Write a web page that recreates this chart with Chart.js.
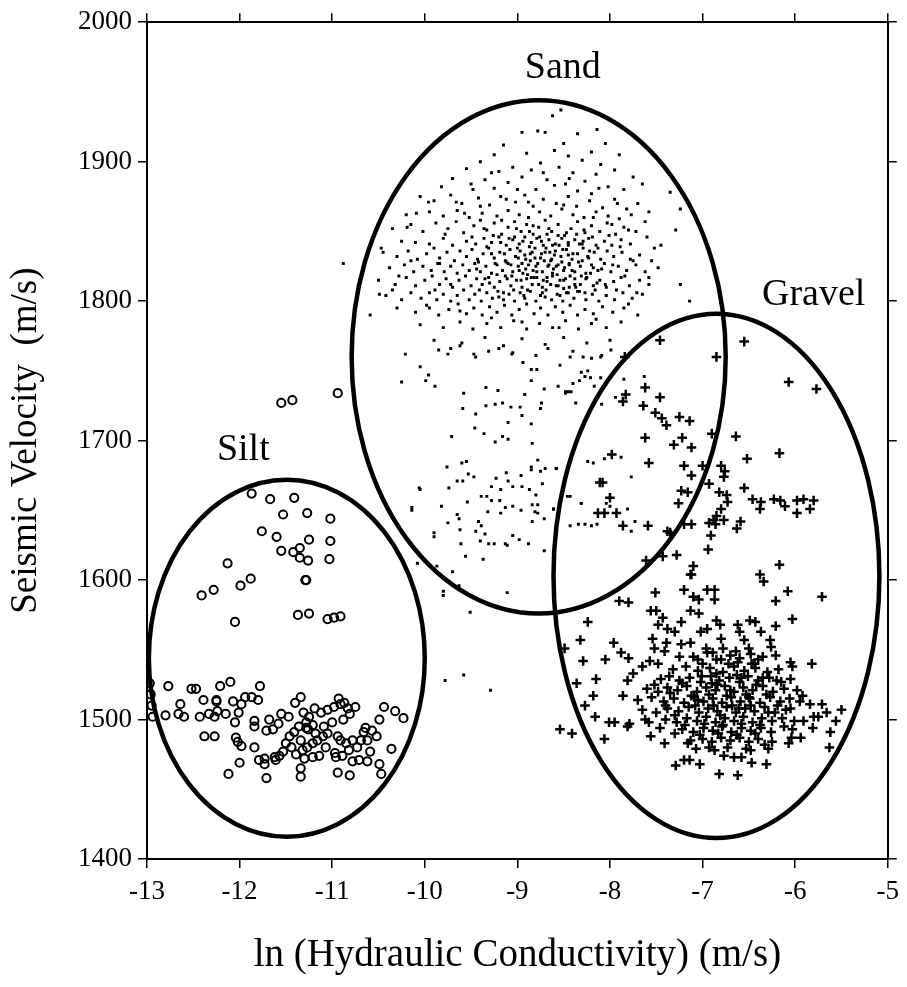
<!DOCTYPE html>
<html>
<head>
<meta charset="utf-8">
<script src="https://cdn.jsdelivr.net/npm/chart.js@4"></script>
<style>
  html, body { margin: 0; padding: 0; background: #fff; }
  canvas { display: block; }
</style>
</head>
<body>
<canvas id="chart" width="907" height="987"></canvas>
<script>
// tick values of the two axes
const xTicks = [-13, -12, -11, -10, -9, -8, -7, -6, -5];
const yTicks = [1400, 1500, 1600, 1700, 1800, 1900, 2000];

// region ellipses (center and half widths, in data units)
const regionNames = ['Silt', 'Sand', 'Gravel'];
const regionCenterX = [-11.49, -8.77, -6.85];
const regionCenterY = [1544, 1760, 1603];
const regionRadiusX = [1.49, 2.02, 1.76];
const regionRadiusY = [128, 184, 188];
// where each region name is written (text baseline)
const regionLabelX = [-11.96, -8.51, -5.80];
const regionLabelY = [1686, 1960, 1797];

// Silt: open circles [ln K, velocity]
const siltPoints = [
  [-11.87,1662],[-11.67,1658],[-11.41,1659],[-11.53,1647],[-11.27,1648],[-11.02,1644],[-11.76,1635],[-11.60,1631],
  [-11.25,1629],[-11.02,1628],[-11.55,1621],[-11.42,1620],[-11.35,1623],[-11.35,1616],[-11.26,1614],[-11.03,1615],
  [-12.13,1612],[-11.88,1601],[-11.99,1596],[-12.28,1593],[-12.41,1589],[-11.29,1600],[-11.28,1600],[-11.37,1575],
  [-11.25,1576],[-11.05,1572],[-10.98,1573],[-10.91,1574],[-12.05,1570],
  [-11.55,1727],[-11.43,1729],[-10.94,1734],
  [-12.97,1526],[-12.96,1518],[-12.95,1510],[-12.94,1502],
  [-12.77,1524],[-12.52,1522],[-12.47,1522],[-12.21,1524],[-12.10,1527],[-11.78,1524],
  [-12.39,1514],[-12.25,1514],[-12.25,1513],[-12.07,1513],[-11.98,1511],[-11.94,1516],[-11.87,1516],[-11.80,1514],
  [-11.40,1512],[-11.34,1516],[-10.93,1515],[-10.87,1512],[-10.75,1509],[-10.44,1509],[-10.32,1506],[-10.23,1501],
  [-10.49,1500],[-10.36,1479],
  [-12.64,1511],[-12.66,1504],[-12.60,1502],[-12.80,1503],[-12.43,1502],[-12.33,1504],[-12.27,1502],[-12.24,1506],
  [-12.15,1504],[-12.01,1505],[-12.05,1498],[-11.55,1504],[-11.47,1502],[-11.68,1500],[-11.84,1499],[-11.84,1495],
  [-11.71,1492],[-11.64,1493],[-11.58,1497],
  [-11.31,1505],[-11.25,1502],[-11.19,1508],[-11.12,1505],[-11.05,1507],[-10.98,1509],[-10.91,1511],[-10.83,1508],
  [-10.81,1504],[-10.88,1500],[-11.00,1498],[-11.09,1495],[-11.21,1496],[-11.28,1498],[-11.36,1495],[-11.41,1491],
  [-11.46,1488],[-11.50,1483],[-11.53,1477],[-11.57,1474],[-11.62,1473],[-11.73,1472],[-11.79,1471],[-11.73,1468],
  [-11.61,1471],[-11.39,1475],[-11.32,1478],[-11.27,1480],[-11.21,1483],[-11.16,1485],[-11.10,1488],[-11.05,1490],
  [-10.94,1488],[-10.91,1485],[-10.85,1483],[-10.78,1485],[-10.73,1480],[-10.82,1478],[-10.89,1474],[-10.96,1473],
  [-10.97,1476],[-11.07,1480],[-11.14,1474],[-11.21,1473],[-11.30,1472],[-11.44,1480],[-11.34,1485],[-11.18,1490],
  [-11.26,1493],[-11.28,1494],
  [-12.38,1488],[-12.27,1488],[-12.04,1487],[-12.02,1484],[-11.98,1481],[-11.84,1480],[-12.00,1469],[-12.12,1461],
  [-11.71,1458],[-11.34,1465],[-11.34,1459],[-10.94,1462],[-10.81,1460],[-10.47,1461],[-10.49,1468],[-10.62,1470],
  [-10.71,1471],[-10.78,1470],[-10.59,1477],[-10.52,1488],[-10.57,1492],[-10.64,1494],[-10.66,1491],[-10.62,1485],
  [-10.69,1485]
];

// Sand: small dots
const sandPoints = [
  [-8.53,1937],[-8.62,1933],[-8.95,1921],[-8.78,1922],[-8.70,1921],[-8.35,1920],[-8.14,1923],[-9.15,1912],[-8.50,1913],
  [-8.05,1913],[-8.60,1908],[-8.90,1906],[-9.25,1905],[-8.45,1904],[-8.20,1907],[-7.90,1905],[-9.40,1900],[-8.75,1899],
  [-8.10,1898],[-8.30,1901],
  [-9.55,1895],[-9.20,1893],[-9.05,1896],[-8.85,1894],[-8.55,1896],[-8.40,1892],[-8.15,1891],[-7.95,1894],[-7.75,1889],
  [-9.70,1888],[-9.35,1887],[-9.10,1885],[-8.95,1889],[-8.68,1887],[-8.48,1884],[-8.27,1886],[-8.02,1882],[-7.85,1880],
  [-9.82,1882],[-9.48,1880],[-9.25,1881],[-8.80,1880],[-8.60,1883],[-8.35,1879],[-8.12,1881],[-7.65,1884],[-7.35,1878],
  [-10.05,1875],[-9.90,1872],[-9.72,1876],[-9.60,1870],[-9.42,1874],[-9.30,1869],[-9.18,1875],[-9.02,1871],[-8.92,1876],
  [-8.83,1868],[-8.72,1873],[-8.58,1870],[-8.45,1875],[-8.36,1868],[-8.22,1872],[-8.08,1867],[-7.95,1873],[-7.82,1866],
  [-7.70,1870],[-7.58,1864],[-10.20,1862],[-9.95,1864],[-9.80,1861],[-9.65,1865],[-9.52,1860],[-9.38,1863],[-9.22,1861],
  [-9.10,1865],[-8.98,1862],[-8.88,1860],[-8.76,1864],[-8.64,1861],[-8.52,1866],[-8.40,1862],[-8.28,1860],[-8.15,1864],
  [-8.02,1861],[-7.90,1859],[-7.77,1862],[-7.24,1866],[-9.96,1871],[-10.09,1863],
  [-10.35,1852],[-10.15,1855],[-10.02,1850],[-9.88,1856],[-9.75,1852],[-9.66,1857],[-9.58,1849],[-9.47,1854],[-9.40,1858],
  [-9.33,1851],[-9.25,1856],[-9.17,1848],[-9.10,1853],[-9.03,1857],[-8.96,1850],[-8.90,1855],[-8.83,1848],[-8.77,1853],
  [-8.70,1858],[-8.63,1850],[-8.56,1855],[-8.49,1847],[-8.42,1852],[-8.35,1857],[-8.27,1849],[-8.20,1854],[-8.11,1850],
  [-8.03,1856],[-7.94,1848],[-7.85,1853],[-7.72,1850],[-7.60,1846],[-7.29,1851],[-10.19,1853],
  [-10.25,1843],[-9.95,1841],[-9.80,1845],[-9.70,1840],[-9.55,1843],[-9.45,1841],[-9.36,1845],[-9.28,1842],[-9.20,1846],
  [-9.12,1840],[-9.05,1844],[-8.98,1841],[-8.92,1846],[-8.85,1842],[-8.79,1845],[-8.72,1840],[-8.66,1844],[-8.59,1841],
  [-8.52,1845],[-8.45,1840],[-8.38,1844],[-8.30,1841],[-8.23,1845],[-8.15,1840],[-8.06,1843],[-7.98,1840],[-7.88,1844],
  [-7.78,1841],[-7.45,1840],[-10.47,1838],
  [-10.45,1835],[-10.30,1832],[-10.18,1836],[-10.08,1830],[-9.98,1834],[-9.90,1838],[-9.84,1831],[-9.76,1835],[-9.68,1829],
  [-9.62,1836],[-9.55,1832],[-9.49,1837],[-9.43,1830],[-9.37,1834],[-9.31,1838],[-9.25,1831],[-9.19,1835],[-9.13,1829],
  [-9.08,1837],[-9.02,1832],[-8.97,1836],[-8.91,1830],[-8.86,1834],[-8.81,1838],[-8.75,1831],[-8.70,1835],[-8.64,1829],
  [-8.59,1836],[-8.53,1832],[-8.47,1837],[-8.41,1830],[-8.35,1834],[-8.29,1838],[-8.23,1831],[-8.17,1835],[-8.10,1830],
  [-8.03,1836],[-7.96,1832],[-7.87,1835],[-7.78,1830],[-7.68,1833],[-7.55,1829],[-10.88,1827],[-10.66,1826],
  [-10.38,1824],[-10.22,1826],[-10.12,1821],[-10.02,1825],[-9.93,1822],[-9.86,1827],[-9.79,1821],[-9.72,1825],[-9.65,1820],
  [-9.59,1826],[-9.52,1822],[-9.46,1827],[-9.40,1821],[-9.34,1825],[-9.28,1820],[-9.22,1826],[-9.16,1822],[-9.10,1827],
  [-9.05,1821],[-8.99,1825],[-8.94,1820],[-8.88,1826],[-8.83,1822],[-8.78,1827],[-8.73,1821],[-8.67,1825],[-8.62,1820],
  [-8.56,1826],[-8.50,1822],[-8.44,1827],[-8.38,1821],[-8.32,1825],[-8.26,1820],[-8.20,1826],[-8.13,1822],[-8.06,1827],
  [-7.99,1821],[-7.91,1825],[-7.82,1822],[-7.72,1826],[-7.62,1821],[-7.48,1824],
  [-10.50,1815],[-10.32,1812],[-10.20,1817],[-10.10,1811],[-10.00,1815],[-9.92,1818],[-9.84,1812],[-9.77,1816],[-9.70,1810],
  [-9.63,1815],[-9.56,1818],[-9.50,1811],[-9.44,1816],[-9.38,1812],[-9.31,1817],[-9.25,1810],[-9.19,1814],[-9.13,1818],
  [-9.07,1811],[-9.01,1815],[-8.95,1810],[-8.90,1816],[-8.84,1812],[-8.79,1817],[-8.73,1810],[-8.68,1814],[-8.62,1818],
  [-8.56,1811],[-8.50,1815],[-8.44,1810],[-8.38,1816],[-8.32,1812],[-8.25,1817],[-8.18,1811],[-8.11,1815],[-8.04,1810],
  [-7.96,1814],[-7.88,1817],[-7.79,1811],[-7.68,1815],[-7.58,1812],[-7.24,1812],[-10.49,1805],
  [-10.42,1804],[-10.25,1801],[-10.15,1806],[-10.04,1802],[-9.95,1806],[-9.87,1801],[-9.80,1805],[-9.72,1800],[-9.65,1804],
  [-9.58,1808],[-9.52,1801],[-9.46,1805],[-9.39,1800],[-9.33,1806],[-9.27,1802],[-9.21,1807],[-9.15,1801],[-9.09,1805],
  [-9.03,1800],[-8.97,1806],[-8.92,1802],[-8.86,1807],[-8.80,1800],[-8.75,1804],[-8.69,1808],[-8.63,1801],[-8.57,1805],
  [-8.51,1800],[-8.45,1806],[-8.39,1802],[-8.33,1807],[-8.26,1801],[-8.19,1805],[-8.12,1800],[-8.04,1804],[-7.95,1801],
  [-7.86,1806],[-7.76,1802],[-7.65,1805],[-7.14,1800],
  [-9.18,1842],[-9.12,1828],[-9.06,1818],[-9.00,1838],[-8.95,1827],[-8.89,1819],[-8.84,1835],[-8.80,1825],[-8.77,1812],
  [-8.74,1843],[-8.71,1829],[-8.68,1817],[-8.65,1835],[-8.61,1823],[-8.58,1811],[-8.55,1840],[-8.52,1828],[-8.48,1816],
  [-8.45,1833],[-8.41,1822],[-8.37,1810],[-8.33,1841],[-8.30,1829],[-8.26,1816],[-8.22,1836],[-8.18,1824],[-8.14,1813],
  [-9.15,1806],[-9.03,1846],[-8.93,1804],[-8.87,1850],[-8.73,1806],[-8.66,1852],[-8.54,1804],[-8.47,1849],[-8.35,1807],
  [-8.28,1851],[-9.22,1819],[-9.28,1834],[-9.35,1816],[-9.42,1828],[-8.92,1833],[-8.82,1817],[-8.69,1838],[-8.57,1819],
  [-8.44,1826],[-8.98,1822],[-8.86,1829],[-8.63,1830],[-8.50,1809],
  [-9.57,1863],[-9.49,1846],[-9.44,1823],[-9.41,1808],[-9.36,1852],[-9.33,1839],[-9.30,1813],[-9.26,1847],[-9.24,1827],
  [-9.20,1803],[-9.17,1858],[-9.14,1834],[-9.11,1816],[-9.09,1845],[-9.07,1826],[-9.04,1808],[-9.01,1852],[-8.99,1831],
  [-8.96,1815],[-8.94,1843],[-8.91,1823],[-8.89,1808],[-8.87,1839],[-8.85,1817],[-8.83,1854],[-8.81,1831],[-8.79,1821],
  [-8.76,1846],[-8.74,1834],[-8.72,1815],[-8.70,1803],[-8.68,1848],[-8.66,1826],[-8.64,1812],[-8.62,1840],[-8.60,1833],
  [-8.58,1825],[-8.56,1847],[-8.54,1815],[-8.51,1837],[-8.49,1824],[-8.47,1806],[-8.45,1842],[-8.43,1818],[-8.40,1834],
  [-8.38,1812],[-8.36,1848],[-8.34,1828],[-8.31,1818],[-8.29,1843],[-8.27,1806],[-8.24,1832],[-8.21,1820],[-8.19,1846],
  [-8.16,1808],[-8.13,1838],[-8.09,1823],[-8.05,1812],[-8.01,1847],[-7.97,1826],[-7.93,1808],[-7.89,1839],[-7.84,1818],
  [-7.80,1851],[-7.75,1829],[-7.71,1806],
  [-9.78,1848],[-9.84,1827],[-9.72,1812],[-9.66,1871],[-9.89,1808],[-10.10,1842],[-10.28,1818],[-9.95,1795],[-9.50,1884],
  [-9.28,1892],[-9.00,1880],[-8.72,1892],[-8.44,1888],[-8.20,1877],[-7.92,1870],[-7.62,1857],[-7.52,1838],[-7.58,1817],
  [-7.80,1798],[-8.15,1787],[-8.55,1781],[-8.95,1785],[-9.28,1788],[-9.62,1793],[-10.35,1808],[-10.15,1829],[-9.40,1868],
  [-9.12,1873],[-8.88,1871],[-8.50,1869],[-8.18,1860],[-7.98,1855],
  [-10.30,1795],[-10.10,1792],[-9.98,1797],[-9.85,1790],[-9.74,1794],[-9.64,1798],[-9.55,1791],[-9.47,1795],[-9.38,1790],
  [-9.30,1796],[-9.22,1792],[-9.14,1797],[-9.06,1790],[-8.98,1794],[-8.90,1798],[-8.82,1791],[-8.75,1795],[-8.67,1790],
  [-8.59,1796],[-8.51,1792],[-8.43,1797],[-8.35,1790],[-8.27,1794],[-8.18,1791],[-8.08,1796],[-7.97,1792],[-7.85,1795],
  [-7.70,1790],[-10.59,1790],
  [-10.05,1783],[-9.80,1781],[-9.62,1785],[-9.48,1780],[-9.33,1784],[-9.18,1781],[-9.04,1786],[-8.90,1780],[-8.76,1784],
  [-8.62,1781],[-8.48,1786],[-8.34,1780],[-8.20,1784],[-8.04,1781],[-7.88,1785],
  [-9.90,1772],[-9.60,1770],[-9.35,1774],[-9.15,1768],[-8.95,1773],[-8.70,1769],[-8.50,1774],[-8.25,1770],[-8.00,1772],
  [-9.75,1762],[-9.45,1760],[-9.05,1763],[-8.80,1761],[-8.40,1764],[-8.10,1760],
  [-9.85,1765],[-9.72,1766],[-9.62,1768],[-9.47,1762],[-9.31,1764],[-9.20,1766],[-9.06,1762],[-8.94,1756],[-8.85,1751],
  [-8.79,1751],[-8.67,1766],[-8.54,1754],[-8.43,1760],[-8.29,1760],[-8.20,1759],[-8.09,1761],[-7.99,1765],
  [-10.21,1762],[-10.05,1753],[-9.99,1743],[-9.89,1739],[-10.25,1742],[-9.96,1747],[-9.58,1734],[-9.59,1723],[-9.45,1719],
  [-9.34,1738],[-9.21,1736],[-9.34,1725],[-9.24,1726],[-9.16,1727],[-9.07,1724],[-8.97,1724],[-8.95,1718],[-8.92,1733],
  [-8.85,1743],[-8.74,1727],[-8.75,1723],[-8.71,1737],[-8.85,1712],[-9.10,1713],[-9.46,1709],[-9.36,1705],[-9.71,1703],
  [-9.16,1703],[-9.10,1701],[-9.24,1699],[-8.84,1698],[-9.60,1684],[-9.55,1685],[-9.76,1681],[-9.53,1676],[-9.47,1674],
  [-9.65,1671],[-9.59,1671],[-9.74,1666],[-10.05,1665],[-9.23,1673],[-9.12,1677],[-9.10,1671],[-8.96,1675],[-9.28,1667],
  [-9.18,1665],[-9.05,1667],[-8.95,1667],[-8.85,1681],[-8.85,1679],[-8.75,1678],[-8.70,1680],[-8.78,1686],[-8.58,1680],
  [-8.73,1669],[-8.87,1665],[-8.80,1661],[-8.84,1654],[-8.78,1654],[-8.81,1649],[-8.78,1648],[-8.71,1644],[-8.84,1642],
  [-8.96,1650],[-9.05,1653],[-9.13,1652],[-9.18,1648],[-9.32,1649],[-9.39,1660],[-9.33,1660],[-9.28,1657],[-9.19,1657],
  [-9.54,1656],[-9.82,1653],[-9.65,1647],[-9.63,1644],[-9.75,1641],[-9.42,1642],[-9.39,1639],[-9.45,1635],[-9.35,1633],
  [-9.40,1628],[-9.31,1626],[-9.25,1626],[-9.13,1626],[-9.11,1625],[-9.05,1632],[-8.98,1629],[-8.88,1626],[-8.71,1621],
  [-9.61,1626],[-9.90,1631],[-9.62,1636],[-10.14,1650],[-9.37,1615],[-9.56,1617],[-9.87,1610],[-9.70,1606],[-9.63,1596],
  [-9.11,1591],[-9.80,1589],[-9.51,1577],[-8.61,1651],[-8.46,1660],[-8.43,1639],[-8.31,1655],[-8.37,1727],[-8.56,1739],
  [-8.48,1735],[-8.42,1735],[-8.31,1749],[-8.27,1746],[-8.24,1750],[-8.33,1743],[-8.40,1741],[-8.21,1745],[-8.09,1726],
  [-8.17,1739],[-10.06,1666],[-10.14,1652],[-9.90,1634],[-10.08,1612],[-9.80,1592],[-9.78,1528],[-9.58,1532],[-9.29,1521],
  [-7.63,1746],[-7.85,1744],[-7.94,1731],[-8.10,1745],[-8.24,1685],[-8.18,1684],[-8.06,1687],[-7.88,1688],[-7.77,1674],
  [-8.31,1655],[-8.43,1660],[-8.04,1655],[-8.00,1653],[-8.34,1640],[-8.27,1640],[-8.20,1639],[-8.14,1640],[-7.81,1651],
  [-7.73,1642],[-7.77,1635],[-8.58,1680],[-8.61,1651],[-8.45,1735],[-8.48,1734]
];

// Gravel: plus signs
const gravelPoints = [
  [-7.46,1772],[-6.55,1771],[-6.85,1760],[-7.84,1760],[-6.07,1742],[-5.77,1737],[-7.62,1738],[-7.83,1733],[-7.86,1728],
  [-7.46,1731],[-7.64,1725],[-7.51,1720],[-7.44,1716],[-7.39,1711],[-7.25,1717],[-7.14,1714],[-6.90,1705],[-6.64,1703],
  [-7.62,1702],[-7.22,1702],[-7.31,1697],[-7.12,1695],[-7.98,1690],[-7.58,1684],[-7.20,1682],[-7.00,1682],[-6.80,1682],
  [-7.12,1675],[-6.76,1678],[-6.77,1674],[-6.52,1687],[-6.17,1691],[-8.11,1670],[-8.08,1670],[-6.93,1669],[-7.23,1664],
  [-7.16,1663],[-6.82,1663],[-6.74,1661],[-6.55,1666],[-8.00,1659],[-7.26,1655],[-6.73,1656],[-6.46,1658],[-6.37,1656],
  [-6.38,1651],[-6.23,1658],[-6.16,1657],[-6.11,1653],[-5.98,1657],[-5.91,1658],[-5.80,1657],[-5.98,1648],[-5.84,1651],
  [-8.13,1648],[-8.06,1648],[-7.93,1648],[-6.80,1651],[-6.85,1646],[-6.88,1643],[-6.93,1641],[-6.77,1643],[-6.86,1640],
  [-6.59,1642],[-6.63,1637],[-7.12,1640],[-7.20,1640],[-7.86,1639],[-7.59,1639],[-7.38,1635],[-7.35,1634],[-6.91,1632],
  [-6.94,1622],[-7.28,1618],[-7.61,1614],[-7.43,1617],[-7.10,1610],[-7.12,1604],[-6.17,1611],[-6.38,1604],
  [-7.13,1604],[-6.34,1599],[-7.20,1593],[-7.51,1591],[-6.95,1593],[-6.87,1593],[-7.10,1588],[-7.04,1586],[-6.87,1586],
  [-6.08,1592],[-5.71,1588],[-6.21,1585],[-7.90,1585],[-7.80,1584],[-7.56,1578],[-7.50,1578],[-7.13,1578],[-7.04,1576],
  [-7.43,1573],[-7.23,1570],[-6.85,1571],[-6.81,1568],[-8.24,1570],[-7.48,1568],[-7.38,1565],[-7.30,1563],[-7.02,1563],
  [-6.95,1565],[-6.62,1568],[-6.49,1571],[-6.43,1570],[-6.60,1563],[-6.37,1563],[-6.21,1567],[-6.03,1572],[-8.32,1557],
  [-7.96,1555],[-7.54,1558],[-7.39,1555],[-7.23,1554],[-7.13,1555],[-6.80,1558],[-6.55,1557],[-6.27,1557],[-8.49,1551],
  [-7.88,1548],[-7.80,1544],[-7.52,1551],[-7.41,1549],[-6.96,1551],[-6.89,1548],[-6.78,1551],[-6.64,1549],[-6.50,1551],
  [-6.35,1545],[-6.26,1552],[-6.21,1546],[-8.29,1542],[-8.05,1543],[-7.65,1538],[-7.57,1542],[-7.48,1540],[-7.05,1543],
  [-6.80,1543],[-6.62,1541],[-6.44,1540],[-6.05,1541],[-5.82,1540],[-6.03,1538],[-7.75,1533],[-8.15,1529],[-8.36,1526],
  [-7.81,1528],[-7.86,1517],[-8.18,1517],[-8.27,1510],[-8.16,1502],[-8.01,1498],[-7.95,1498],[-7.81,1495],[-7.79,1497],
  [-8.54,1493],[-8.41,1490],[-8.06,1486],[-7.58,1498],[-7.56,1488],[-7.41,1483],[-7.30,1490],[-7.20,1471],[-7.29,1467],
  [-7.14,1471],[-7.03,1468],[-6.82,1461],[-6.62,1460],[-6.47,1469],[-6.31,1468],[-5.92,1517],[-5.84,1511],[-5.71,1511],
  [-5.66,1505],[-5.50,1507],[-5.80,1502],[-5.75,1502],[-5.56,1499],[-5.62,1491],[-5.63,1480],[-5.81,1494],[-5.94,1487],
  [-6.04,1487],[-6.07,1483],[-6.03,1493],[-5.91,1499],[-6.01,1499],[-6.25,1484],[-6.29,1479],[-6.48,1478],[-6.58,1473],
  [-6.66,1473],[-6.77,1474],[-6.87,1478],[-7.07,1479],[-7.16,1483],
  [-7.32,1536],[-7.18,1538],[-7.05,1535],[-6.92,1537],[-6.78,1534],[-6.66,1538],[-6.55,1535],[-6.43,1537],[-6.30,1534],
  [-6.18,1536],[-7.45,1529],[-7.36,1531],[-7.25,1528],[-7.14,1530],[-7.02,1527],[-6.91,1531],[-6.82,1528],[-6.71,1530],
  [-6.60,1527],[-6.51,1531],[-6.40,1528],[-6.28,1530],[-6.15,1527],[-6.05,1529],
  [-7.60,1522],[-7.48,1520],[-7.38,1523],[-7.27,1521],[-7.17,1524],[-7.06,1520],[-6.96,1523],[-6.86,1521],[-6.76,1524],
  [-6.66,1520],[-6.56,1523],[-6.46,1521],[-6.35,1524],[-6.24,1520],[-6.12,1522],[-5.98,1521],
  [-7.70,1514],[-7.55,1516],[-7.42,1513],[-7.31,1515],[-7.20,1512],[-7.09,1516],[-6.99,1513],[-6.89,1515],[-6.79,1512],
  [-6.69,1516],[-6.59,1513],[-6.49,1515],[-6.38,1512],[-6.27,1516],[-6.16,1513],[-6.06,1515],
  [-7.65,1507],[-7.50,1505],[-7.38,1508],[-7.26,1506],[-7.15,1509],[-7.04,1505],[-6.94,1508],[-6.84,1506],[-6.74,1509],
  [-6.64,1505],[-6.54,1508],[-6.44,1506],[-6.33,1509],[-6.22,1505],[-6.10,1507],
  [-7.40,1500],[-7.28,1498],[-7.17,1501],[-7.06,1499],[-6.96,1502],[-6.86,1498],[-6.76,1501],[-6.66,1499],[-6.56,1502],
  [-6.46,1498],[-6.36,1501],[-6.25,1499],[-6.14,1501],
  [-7.22,1493],[-7.10,1491],[-6.99,1494],[-6.89,1492],[-6.79,1495],[-6.69,1491],[-6.58,1494],[-6.48,1492],[-6.37,1494],
  [-6.26,1491],[-7.00,1486],[-6.90,1484],[-6.80,1487],[-6.70,1485],[-6.60,1487],[-6.50,1484],[-6.40,1486],
  [-7.10,1545],[-6.95,1548],[-6.85,1543],[-6.70,1546],[-6.60,1544],[-6.48,1547],[-6.40,1543],[-7.25,1545],
  [-7.35,1519],[-7.22,1526],[-7.12,1517],[-7.01,1531],[-6.93,1518],[-6.84,1525],[-6.74,1517],[-6.63,1532],[-6.53,1518],
  [-6.42,1525],[-6.31,1518],[-6.20,1528],[-7.30,1503],[-7.19,1496],[-7.08,1510],[-6.98,1497],[-6.88,1510],[-6.78,1496],
  [-6.68,1510],[-6.58,1497],[-6.48,1510],[-6.38,1496],[-6.29,1505],[-6.19,1510],[-7.13,1485],[-7.03,1489],[-6.93,1480],
  [-6.83,1490],[-6.73,1480],[-6.63,1489],[-6.53,1479],[-6.43,1490],[-6.33,1482],[-6.85,1533],[-6.72,1540],[-6.58,1530],
  [-6.47,1540],[-6.35,1530],[-7.00,1540],[-7.40,1510],[-7.52,1525],[-7.62,1500],[-6.05,1508],[-5.95,1513],[-6.12,1495],
  [-7.46,1494],[-6.81,1503],[-6.61,1508],[-6.90,1526],[-7.05,1514],[-6.70,1521],[-6.50,1516]
];

const serif = "'Liberation Serif', 'DejaVu Serif', serif";

function toXY(list) {
  return list.map(p => ({ x: p[0], y: p[1] }));
}

// ellipses and region names, drawn through the chart scales
const regionPlugin = {
  id: 'regions',
  afterDatasetsDraw(chart) {
    const ctx = chart.ctx;
    const xs = chart.scales.x;
    const ys = chart.scales.y;
    ctx.save();
    ctx.strokeStyle = '#000';
    ctx.lineWidth = 4.5;
    for (let i = 0; i < regionNames.length; i++) {
      const cx = xs.getPixelForValue(regionCenterX[i]);
      const cy = ys.getPixelForValue(regionCenterY[i]);
      const rx = Math.abs(xs.getPixelForValue(regionCenterX[i] + regionRadiusX[i]) - cx);
      const ry = Math.abs(ys.getPixelForValue(regionCenterY[i] + regionRadiusY[i]) - cy);
      ctx.beginPath();
      ctx.ellipse(cx, cy, rx, ry, 0, 0, Math.PI * 2);
      ctx.stroke();
    }
    ctx.fillStyle = '#000';
    ctx.font = '38px ' + serif;
    ctx.textAlign = 'center';
    ctx.textBaseline = 'alphabetic';
    for (let i = 0; i < regionNames.length; i++) {
      ctx.fillText(regionNames[i], xs.getPixelForValue(regionLabelX[i]), ys.getPixelForValue(regionLabelY[i]));
    }
    ctx.restore();
  }
};

function frameAxis(extra) {
  return Object.assign({
    border: { display: true, color: '#000', width: 2 },
    grid: { drawOnChartArea: false, color: '#000', lineWidth: 1.5, tickLength: 9 },
  }, extra);
}

function createChart() {
  const ctx = document.getElementById('chart').getContext('2d');
  new Chart(ctx, {
    type: 'scatter',
    data: {
      datasets: [
        {
          label: 'Sand',
          data: toXY(sandPoints),
          pointStyle: 'rect',
          pointRadius: 2.1,
          backgroundColor: '#000',
          borderWidth: 0
        },
        {
          label: 'Silt',
          data: toXY(siltPoints),
          pointStyle: 'circle',
          pointRadius: 4.1,
          backgroundColor: 'rgba(0,0,0,0)',
          borderColor: '#000',
          borderWidth: 2
        },
        {
          label: 'Gravel',
          data: toXY(gravelPoints),
          pointStyle: 'cross',
          pointRadius: 4.8,
          borderColor: '#000',
          borderWidth: 2.5
        }
      ]
    },
    options: {
      responsive: false,
      animation: false,
      layout: { padding: 0 },
      plugins: { legend: { display: false }, tooltip: { enabled: false } },
      scales: {
        x: frameAxis({
          type: 'linear', position: 'bottom', min: -13, max: -5,
          afterBuildTicks: s => { s.ticks = xTicks.map(v => ({ value: v })); },
          afterFit: s => { s.height = 128; },
          ticks: { color: '#000', font: { family: serif, size: 27 }, padding: 8, maxRotation: 0, callback: v => String(v) },
          title: { display: true, text: 'ln (Hydraulic Conductivity) (m/s)', color: '#000',
                   font: { family: serif, size: 39 }, padding: { top: 0, bottom: 8 } }
        }),
        x2: frameAxis({
          type: 'linear', position: 'top', min: -13, max: -5,
          afterBuildTicks: s => { s.ticks = xTicks.map(v => ({ value: v })); },
          afterFit: s => { s.height = 20; },
          ticks: { display: false }
        }),
        y: frameAxis({
          type: 'linear', position: 'left', min: 1400, max: 2000,
          afterBuildTicks: s => { s.ticks = yTicks.map(v => ({ value: v })); },
          afterFit: s => { s.width = 147; },
          ticks: { color: '#000', font: { family: serif, size: 27 }, padding: 6, callback: v => String(v) },
          title: { display: true, text: 'Seismic Velocity  (m/s)', color: '#000',
                   font: { family: serif, size: 37 }, padding: { top: 4, bottom: 0 } }
        }),
        y2: frameAxis({
          type: 'linear', position: 'right', min: 1400, max: 2000,
          afterBuildTicks: s => { s.ticks = yTicks.map(v => ({ value: v })); },
          afterFit: s => { s.width = 16; },
          ticks: { display: false }
        })
      }
    },
    plugins: [regionPlugin]
  });
}

createChart();
</script>
</body>
</html>
